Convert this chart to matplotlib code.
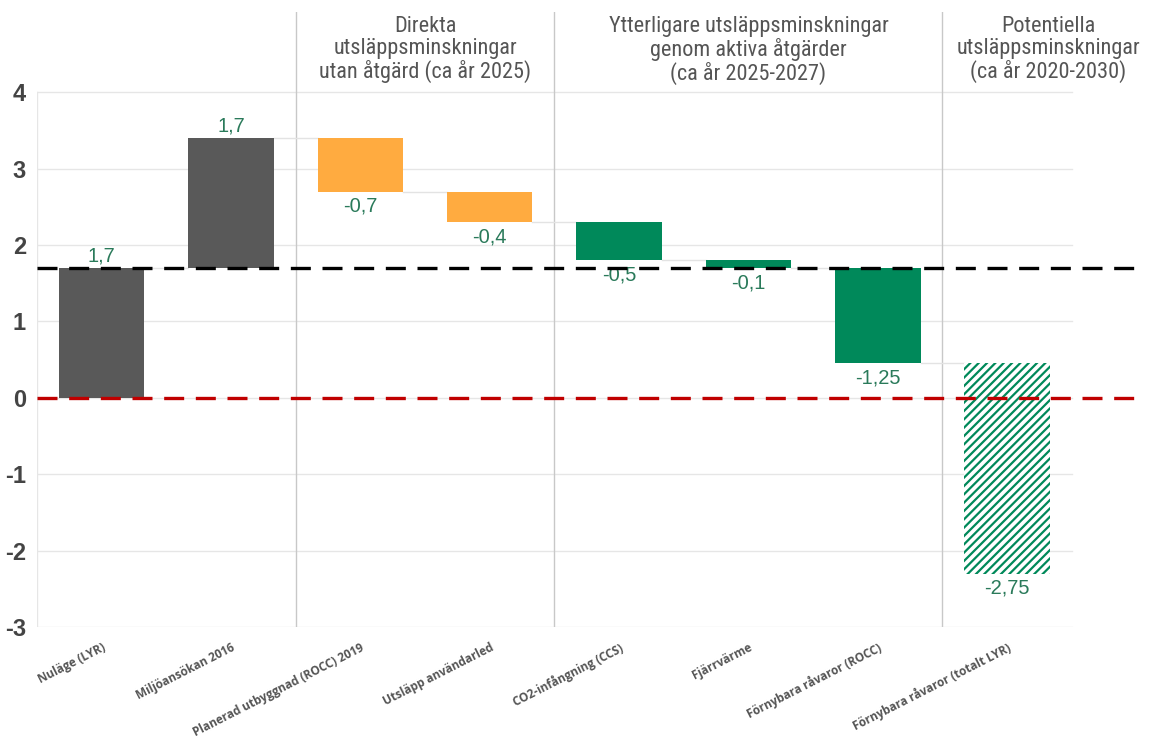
import matplotlib
matplotlib.use('Agg')
import matplotlib.pyplot as plt
import numpy as np

categories = ['Nuläge (LYR)', 'Miljöansökan 2016', 'Planerad utbyggnad (ROCC) 2019',
              'Utsläpp användarled', 'CO2-infångning (CCS)', 'Fjärrvärme',
              'Förnybara råvaror (ROCC)', 'Förnybara råvaror (totalt LYR)']
values = [1.7, 1.7, -0.7, -0.4, -0.5, -0.1, -1.25, -2.75]
value_labels = ['1,7', '1,7', '-0,7', '-0,4', '-0,5', '-0,1', '-1,25', '-2,75']
bar_colors = ['#595959', '#595959', '#ffab40', '#ffab40', '#00895a', '#00895a', '#00895a', 'white']
headers = ['Direkta\nutsläppsminskningar\nutan åtgärd (ca år 2025)',
           'Ytterligare utsläppsminskningar\ngenom aktiva åtgärder\n(ca år 2025-2027)',
           'Potentiella\nutsläppsminskningar\n(ca år 2020-2030)']
header_x = [2.5, 5.0, 7.32]
separators = [1.5, 3.5, 6.5]
yticks = [-3, -2, -1, 0, 1, 2, 3, 4]
ref_level = 1.7

ends = np.cumsum(values)
bottoms = ends - np.array(values)
x = np.arange(len(categories))

plt.rcParams['hatch.linewidth'] = 1.6

fig = plt.figure(figsize=(11.49, 7.53), dpi=100)
ax = fig.add_axes([37 / 1149, 126 / 753, 1106 / 1149, 615 / 753])
ax.set_xlim(-0.5, 8.05)
ax.set_ylim(-3, 5.05)

# grid
for yv in yticks:
    ax.plot([-0.5, 7.5], [yv, yv], color='#e6e6e6', lw=1, zorder=0)
ax.plot([-0.5, -0.5], [-3, 4], color='#e6e6e6', lw=1, zorder=0)
for sx in separators:
    ax.plot([sx, sx], [-3, 5.05], color='#c8c8c8', lw=1, zorder=0)

w = 0.66
for i in range(len(values)):
    if i == len(values) - 1:
        ax.bar(x[i], values[i], bottom=bottoms[i], width=w, color='white',
               edgecolor='#00895a', hatch='////', lw=0, zorder=2)
    else:
        ax.bar(x[i], values[i], bottom=bottoms[i], width=w, color=bar_colors[i], lw=0, zorder=2)
    # connector
    if i < len(values) - 1:
        ax.plot([x[i] + w / 2, x[i + 1] - w / 2], [ends[i], ends[i]], color='#e3e3e3', lw=1, zorder=1)
    if values[i] > 0:
        ax.text(x[i], ends[i] + 0.03, value_labels[i], ha='center', va='bottom',
                color='#2a7a5a', fontsize=14.5, family=['Liberation Sans', 'DejaVu Sans'])
    else:
        ax.text(x[i], ends[i] - 0.07, value_labels[i], ha='center', va='top',
                color='#2a7a5a', fontsize=14.5, family=['Liberation Sans', 'DejaVu Sans'])

ax.axhline(ref_level, color='black', lw=2.4, ls=(0, (6, 3.5)), zorder=3)
ax.axhline(0, color='#c00000', lw=2.4, ls=(0, (6, 3.5)), zorder=3)

for hx, ht in zip(header_x, headers):
    ax.text(hx, 5.0, ht, ha='center', va='top', color='#555555', fontsize=16,
            linespacing=1.05, family=['Roboto Condensed', 'Roboto', 'DejaVu Sans'])

ax.set_yticks(yticks)
ax.set_yticklabels([str(v) for v in yticks], fontsize=17, fontweight='heavy', color='#444444',
                   family=['Liberation Sans', 'DejaVu Sans'])
ax.set_xticks(x)
ax.set_xticklabels(categories, rotation=27, ha='right', rotation_mode='anchor',
                   fontsize=8.5, fontweight='bold', color='#555555', family='Open Sans')
ax.tick_params(length=0, axis='both')
ax.tick_params(axis='y', pad=8)
ax.tick_params(axis='x', pad=10)
for s in ax.spines.values():
    s.set_visible(False)

plt.savefig('out.png', dpi=100)
